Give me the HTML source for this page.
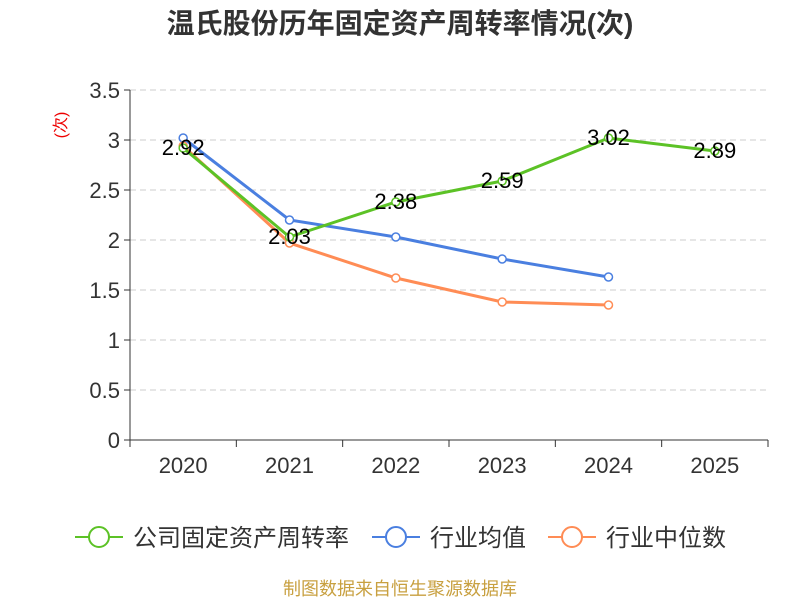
<!DOCTYPE html>
<html><head><meta charset="utf-8"><style>
body{margin:0;background:#fff;width:800px;height:600px;overflow:hidden;font-family:"Liberation Sans","Noto Sans CJK SC",sans-serif}
</style></head><body>
<svg id="c" width="800" height="600" xmlns="http://www.w3.org/2000/svg">
<text x="400" y="33" text-anchor="middle" font-size="28" font-weight="bold" fill="#333" font-family="Liberation Sans,Noto Sans CJK SC,sans-serif">温氏股份历年固定资产周转率情况(次)</text>
<text transform="translate(66,125) rotate(-90)" text-anchor="middle" font-size="16" fill="#e00" font-family="Liberation Sans,Noto Sans CJK SC,sans-serif">(次)</text>
<g id="grid"></g><g id="axes"></g><g id="series"></g><g id="legend"></g>
<text x="400" y="595" text-anchor="middle" font-size="18" fill="#c8a040" font-family="Liberation Sans,Noto Sans CJK SC,sans-serif">制图数据来自恒生聚源数据库</text>
</svg>
<script>
const categories=["2020","2021","2022","2023","2024","2025"];
const companyValues=[2.92,2.03,2.38,2.59,3.02,2.89];
const industryAvg=[3.02,2.20,2.03,1.81,1.63];
const industryMedian=[2.94,1.97,1.62,1.38,1.35];
const yTicks=[0,0.5,1,1.5,2,2.5,3,3.5];
const yTickLabels=["0","0.5","1","1.5","2","2.5","3","3.5"];
const NS="http://www.w3.org/2000/svg";
const L=130,R=768,T=90,B=440,yMax=3.5;
const bw=(R-L)/categories.length;
const x=i=>L+bw*(i+0.5);
const y=v=>B-(v/yMax)*(B-T);
function mk(tag,attrs,parent,text){const e=document.createElementNS(NS,tag);for(const k in attrs)e.setAttribute(k,attrs[k]);if(text!==undefined)e.textContent=text;document.getElementById(parent).appendChild(e);return e;}
const F="Liberation Sans,Noto Sans CJK SC,sans-serif";
yTicks.forEach((t,i)=>{
 if(t>0){const g=mk('line',{x1:L,x2:R,y1:y(t),y2:y(t),stroke:'#ccc','stroke-dasharray':'6,4'},'grid');
 
 }
 const tk=mk('line',{x1:L-6,x2:L,y1:y(t),y2:y(t),stroke:'#333'},'axes');
 
 
 const lb=mk('text',{x:L-10,y:y(t)+8,'text-anchor':'end','font-size':22,fill:'#333','font-family':F},'axes',yTickLabels[i]);
 
 
});
const ya=mk('line',{x1:L,x2:L,y1:T,y2:B,stroke:'#333'},'axes');


const xa=mk('line',{x1:L,x2:R,y1:B,y2:B,stroke:'#333'},'axes');


for(let i=0;i<=categories.length;i++){
 const tk=mk('line',{x1:L+bw*i,x2:L+bw*i,y1:B,y2:B+7,stroke:'#333'},'axes');
 
 
}
categories.forEach((c,i)=>{
 const lb=mk('text',{x:x(i),y:B+33,'text-anchor':'middle','font-size':22,fill:'#333','font-family':F},'axes',c);
 
 
});
function series(vals,color,name,labels){
 const pts=vals.map((v,i)=>x(i)+','+y(v)).join(' ');
 const pl=mk('polyline',{points:pts,fill:'none',stroke:color,'stroke-width':3},'series');
 
 
 vals.forEach((v,i)=>{
  const c=mk('circle',{cx:x(i),cy:y(v),r:4,fill:'#fff',stroke:color,'stroke-width':1.5},'series');
  
  
  if(labels){const t=mk('text',{x:x(i),y:y(v)+7,'text-anchor':'middle','font-size':22,fill:'#000','font-family':F},'series',v.toFixed(2));
  
  }
 });
}
series(industryAvg,'#4a7fe0','industry-average',false);
series(industryMedian,'#ff8c55','industry-median',false);
series(companyValues,'#5cc226','company',true);
const leg=[["公司固定资产周转率",'#5cc226',75],["行业均值",'#4a7fe0',372],["行业中位数",'#ff8c55',548]];
leg.forEach(([t,c,lx])=>{
 const l=mk('line',{x1:lx,x2:lx+48,y1:537,y2:537,stroke:c,'stroke-width':2},'legend');
 
 
 const ci=mk('circle',{cx:lx+24,cy:537,r:10,fill:'#fff',stroke:c,'stroke-width':2},'legend');
 
 
 const tx=mk('text',{x:lx+58,y:546,'font-size':24,fill:'#333','font-family':F},'legend',t);
 
 
});
</script>
</body></html>
